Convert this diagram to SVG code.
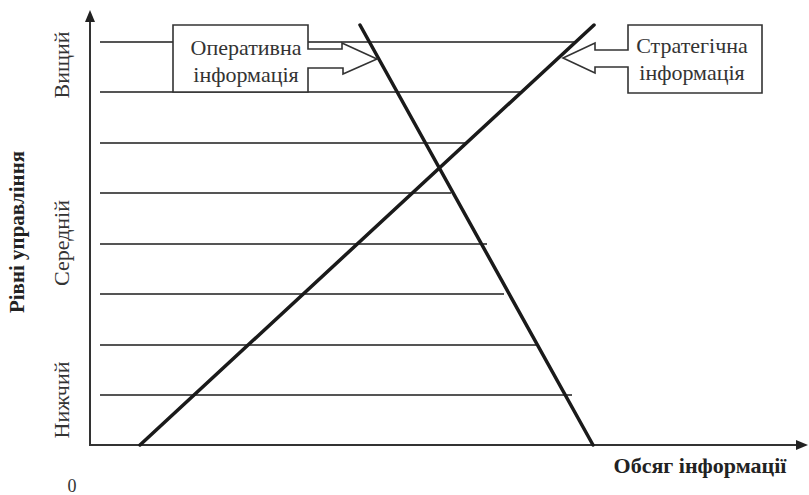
<svg xmlns="http://www.w3.org/2000/svg" width="809" height="495" viewBox="0 0 809 495">
<defs>
<style>
.lvl{stroke:#555;stroke-width:2;fill:none}
.main{stroke:#1a1a1a;stroke-width:3.5;fill:none;stroke-linecap:round}
.axis{stroke:#333;stroke-width:2;fill:none}
.box{fill:#fff;stroke:#333;stroke-width:1.6;stroke-linejoin:miter}
.t{font-family:"Liberation Serif","Times New Roman",serif;font-size:22px;fill:#333}
.b{font-family:"Liberation Serif","Times New Roman",serif;font-size:21px;font-weight:bold;fill:#222}
</style>
</defs>
<rect width="809" height="495" fill="#fff"/>
<g id="axes">
<line class="axis" x1="90" y1="446" x2="90" y2="20"/>
<polygon points="90,10 85,22 95,22" fill="#222"/>
<line class="axis" x1="89" y1="445" x2="798" y2="445"/>
<polygon points="808,445 796,440 796,450" fill="#222"/>
</g>
<g id="levels">
<line class="lvl" x1="100" y1="42" x2="576" y2="42"/>
<line class="lvl" x1="100" y1="92" x2="521" y2="92"/>
<line class="lvl" x1="100" y1="143" x2="467" y2="143"/>
<line class="lvl" x1="100" y1="193" x2="451" y2="193"/>
<line class="lvl" x1="100" y1="244" x2="487" y2="244"/>
<line class="lvl" x1="100" y1="294" x2="504" y2="294"/>
<line class="lvl" x1="100" y1="345" x2="537" y2="345"/>
<line class="lvl" x1="100" y1="395" x2="572" y2="395"/>
</g>
<g id="connectors">
<line class="main" x1="360" y1="25" x2="593" y2="445"/>
<line class="main" x1="140" y1="445" x2="594" y2="25"/>
</g>
<g id="operative">
<polygon class="box" points="173,25 308,25 308,49 342,49 342,43 377,59 343,74 343,68 308,68 308,92 173,92"/>
<text class="t" x="246" y="55" text-anchor="middle">Оперативна</text>
<text class="t" x="246" y="82" text-anchor="middle">інформація</text>
</g>
<g id="strategic">
<polygon class="box" points="628,25 762,25 762,93 628,93 628,67 595,67 595,73 563,58 595,43 595,50 628,50"/>
<text class="t" x="692" y="53" text-anchor="middle">Стратегічна</text>
<text class="t" x="692" y="80" text-anchor="middle">інформація</text>
</g>
<g id="ylabels">
<text class="t" x="69" y="65" text-anchor="middle" transform="rotate(-90 69 65)">Вищий</text>
<text class="t" x="69" y="243" text-anchor="middle" transform="rotate(-90 69 243)">Середній</text>
<text class="t" x="69" y="400" text-anchor="middle" transform="rotate(-90 69 400)">Нижчий</text>
<text class="b" x="24" y="232" text-anchor="middle" transform="rotate(-90 24 232)">Рівні управління</text>
</g>
<g id="xlabels">
<text class="b" x="700" y="473" text-anchor="middle" style="font-size:22px">Обсяг інформації</text>
<text class="t" x="72" y="492" text-anchor="middle" style="font-size:18px">0</text>
</g>
</svg>
